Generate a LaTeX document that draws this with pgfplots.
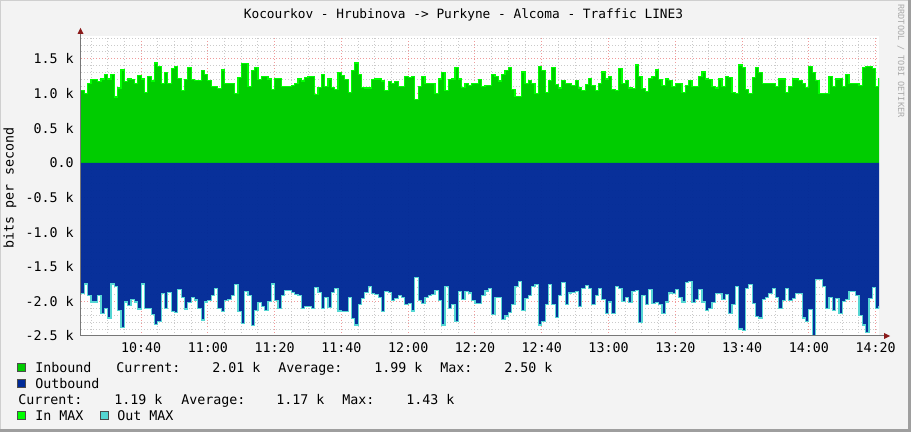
\documentclass[border=0pt]{standalone}
\usepackage{pgfplots}
\pgfplotsset{compat=1.18}
\usepackage{pgfplotstable}
\usepackage{fontspec}
\setmainfont{DejaVu Sans Mono}

\definecolor{bgcol}{HTML}{F3F3F3}
\definecolor{edgedark}{HTML}{9E9E9E}
\definecolor{edgelight}{HTML}{CFCFCF}
\definecolor{inarea}{HTML}{00CC00}
\definecolor{inmax}{HTML}{00FF00}
\definecolor{outarea}{HTML}{002A97}
\definecolor{outmax}{HTML}{55D6D3}
\definecolor{majgrid}{HTML}{F09A9A}
\definecolor{mingrid}{HTML}{CACACA}
\definecolor{axiscol}{HTML}{777777}
\definecolor{arrowcol}{HTML}{8B1A1A}
\definecolor{wmark}{HTML}{AAAAAA}

% minutes after 10:00, inbound, outbound (k bits/s)
\pgfplotstableread[row sep=\\]{
t in out\\
22 1.04 -1.89\\ 23 1.00 -1.75\\ 24 1.15 -1.91\\ 25 1.20 -2.01\\ 26 1.20 -2.01\\
27 1.17 -1.91\\ 28 1.21 -2.18\\ 29 1.27 -2.10\\ 30 1.21 -2.24\\ 31 1.28 -1.75\\
32 0.95 -1.78\\ 33 1.08 -2.13\\ 34 1.34 -2.38\\ 35 1.17 -2.01\\ 36 1.21 -2.06\\
37 1.20 -1.97\\ 38 1.15 -2.01\\ 39 1.26 -2.11\\ 40 1.21 -1.75\\ 41 1.01 -2.10\\
42 1.25 -2.10\\ 43 1.18 -2.19\\ 44 1.44 -2.33\\ 45 1.39 -2.29\\ 46 1.14 -1.89\\
47 1.30 -2.10\\ 48 1.14 -1.87\\ 49 1.36 -2.15\\ 50 1.39 -2.16\\ 51 1.22 -1.83\\
52 1.04 -1.95\\ 53 1.20 -2.11\\ 54 1.38 -2.02\\ 55 1.20 -1.95\\ 56 1.19 -1.98\\
57 1.19 -2.10\\ 58 1.33 -2.27\\ 59 1.28 -2.01\\ 60 1.19 -1.99\\ 61 1.10 -1.92\\
62 1.10 -1.82\\ 63 1.07 -2.10\\ 64 1.34 -2.15\\ 65 1.14 -1.99\\ 66 1.15 -1.97\\
67 1.15 -1.91\\ 68 1.00 -1.76\\ 69 1.23 -2.15\\ 70 1.43 -2.32\\ 71 1.43 -1.86\\
72 1.10 -1.91\\ 73 1.33 -2.35\\ 74 1.37 -2.13\\ 75 1.20 -2.02\\ 76 1.25 -2.08\\
77 1.25 -2.13\\ 78 1.21 -2.00\\ 79 1.06 -1.75\\ 80 1.22 -1.99\\ 81 1.22 -2.10\\
82 1.10 -1.91\\ 83 1.10 -1.84\\ 84 1.10 -1.84\\ 85 1.11 -1.87\\ 86 1.15 -1.90\\
87 1.21 -1.91\\ 88 1.18 -2.10\\ 89 1.23 -2.07\\ 90 1.25 -2.07\\ 91 1.25 -2.10\\
92 0.99 -1.80\\ 93 1.09 -1.87\\ 94 1.28 -2.10\\ 95 1.10 -1.94\\ 96 1.21 -2.09\\
97 1.09 -1.87\\ 98 1.06 -1.82\\ 99 1.30 -2.14\\ 100 1.26 -2.15\\ 101 1.20 -2.15\\
102 1.01 -1.94\\ 103 1.33 -2.25\\ 104 1.44 -2.34\\ 105 1.27 -2.05\\ 106 1.09 -1.96\\
107 1.08 -1.87\\ 108 1.08 -1.78\\ 109 1.20 -1.89\\ 110 1.21 -1.90\\ 111 1.21 -1.94\\
112 1.18 -2.15\\ 113 1.04 -1.86\\ 114 1.17 -1.87\\ 115 1.15 -1.99\\ 116 1.17 -1.96\\
117 1.10 -1.92\\ 118 1.10 -1.94\\ 119 1.25 -2.05\\ 120 1.23 -2.03\\ 121 1.25 -2.14\\
122 0.91 -1.65\\ 123 1.10 -1.99\\ 124 1.24 -2.03\\ 125 1.14 -1.95\\ 126 1.14 -1.92\\
127 1.14 -1.90\\ 128 1.00 -1.84\\ 129 1.21 -1.99\\ 130 1.30 -2.34\\ 131 1.04 -1.79\\
132 1.20 -2.10\\ 133 1.21 -2.05\\ 134 1.38 -2.29\\ 135 1.21 -1.86\\ 136 1.09 -1.97\\
137 1.14 -1.86\\ 138 1.12 -1.88\\ 139 1.15 -1.99\\ 140 1.14 -2.03\\ 141 1.20 -2.03\\
142 1.10 -1.92\\ 143 1.11 -1.85\\ 144 1.11 -1.82\\ 145 1.27 -2.19\\ 146 1.25 -1.95\\
147 1.18 -1.95\\ 148 1.28 -2.26\\ 149 1.33 -2.21\\ 150 1.38 -2.16\\ 151 1.06 -2.05\\
152 0.96 -1.78\\ 153 0.96 -1.71\\ 154 1.31 -2.13\\ 155 1.15 -1.96\\ 156 1.19 -1.91\\
157 1.15 -1.78\\ 158 1.00 -1.76\\ 159 1.39 -2.34\\ 160 1.33 -2.29\\ 161 1.01 -2.05\\
162 1.19 -1.76\\ 163 1.38 -2.05\\ 164 1.13 -2.23\\ 165 1.08 -1.92\\ 166 1.19 -1.73\\
167 1.15 -2.05\\ 168 1.15 -1.88\\ 169 1.12 -1.87\\ 170 1.19 -1.86\\ 171 1.08 -2.07\\
172 1.04 -1.81\\ 173 1.13 -1.77\\ 174 1.22 -1.81\\ 175 1.12 -2.05\\ 176 1.04 -1.91\\
177 1.15 -1.82\\ 178 1.31 -1.97\\ 179 1.21 -2.18\\ 180 1.25 -2.01\\ 181 1.06 -2.18\\
182 1.04 -1.78\\ 183 1.36 -1.81\\ 184 1.14 -2.00\\ 185 1.19 -1.95\\ 186 1.08 -2.02\\
187 1.07 -1.86\\ 188 1.41 -1.84\\ 189 1.25 -2.30\\ 190 1.07 -1.92\\ 191 1.03 -2.05\\
192 1.22 -1.83\\ 193 1.25 -2.03\\ 194 1.34 -2.02\\ 195 1.20 -2.05\\ 196 1.12 -2.18\\
197 1.21 -2.01\\ 198 1.19 -1.88\\ 199 1.10 -1.89\\ 200 1.15 -1.83\\ 201 1.15 -1.95\\
202 1.02 -2.01\\ 203 1.12 -1.73\\ 204 1.19 -1.71\\ 205 1.10 -2.02\\ 206 1.10 -1.97\\
207 1.25 -1.83\\ 208 1.31 -2.01\\ 209 1.21 -2.13\\ 210 1.20 -2.10\\ 211 1.10 -2.02\\
212 1.08 -1.89\\ 213 1.21 -1.89\\ 214 1.10 -1.97\\ 215 1.25 -1.90\\ 216 1.23 -2.18\\
217 1.01 -2.05\\ 218 1.00 -1.78\\ 219 1.41 -2.40\\ 220 1.38 -2.42\\ 221 1.06 -1.81\\
222 1.00 -1.76\\ 223 1.23 -2.03\\ 224 1.38 -2.22\\ 225 1.30 -2.24\\ 226 1.15 -1.97\\
227 1.14 -1.95\\ 228 1.14 -1.89\\ 229 1.14 -1.82\\ 230 1.10 -1.94\\ 231 1.21 -2.10\\
232 1.21 -1.99\\ 233 1.02 -1.81\\ 234 1.10 -1.99\\ 235 1.21 -1.96\\ 236 1.21 -1.89\\
237 1.19 -1.89\\ 238 1.15 -2.24\\ 239 1.09 -2.29\\ 240 1.39 -2.12\\ 241 1.30 -2.50\\
242 1.19 -1.69\\ 243 1.00 -1.69\\ 244 1.00 -1.78\\ 245 1.00 -2.10\\ 246 1.25 -1.94\\
247 1.10 -2.13\\ 248 1.21 -1.96\\ 249 1.22 -2.18\\ 250 1.10 -2.00\\ 251 1.28 -1.97\\
252 1.14 -1.86\\ 253 1.14 -1.86\\ 254 1.14 -1.92\\ 255 1.12 -2.20\\ 256 1.37 -2.34\\
257 1.39 -2.45\\ 258 1.39 -1.96\\ 259 1.36 -1.80\\ 260 1.10 -2.10\\ 261 1.22 -2.07\\
}\traffic

\newcommand{\lgfont}{\fontsize{10}{12}\selectfont}

\begin{document}
\begin{tikzpicture}[x=0.75pt,y=0.75pt]
\path[use as bounding box] (0,0) rectangle (911,432);
\fill[bgcol] (0,0) rectangle (911,432);
\fill[edgelight] (0,431) rectangle (911,432);
\fill[edgelight] (0,0) rectangle (1,432);
\fill[edgedark] (908,0) rectangle (911,432);
\fill[edgedark] (0,0) rectangle (911,3);

\begin{axis}[
  at={(60.75pt,72pt)}, anchor=south west, scale only axis,
  width=598.5pt, height=225pt,
  xmin=22, xmax=261, ymin=-2.5, ymax=1.83,
  axis background/.style={fill=white},
  axis line style={draw=none},
  xtick={40,60,...,260},
  xticklabels={10:40,11:00,11:20,11:40,12:00,12:20,12:40,13:00,13:20,13:40,14:00,14:20},
  ytick={-2.5,-2,...,1.5},
  yticklabels={-2.5 k,-2.0 k,-1.5 k,-1.0 k,-0.5 k,0.0,0.5 k,1.0 k,1.5 k},
  minor xtick={25,30,...,260},
  minor ytick={-2.4,-2.3,...,1.8},
  grid=both,
  major grid style={draw=majgrid, line width=0.75pt, dash pattern=on 0.75pt off 1.5pt},
  minor grid style={draw=mingrid, line width=0.75pt, dash pattern=on 0.75pt off 1.5pt},
  major tick length=0pt, minor tick length=0pt,
  tick label style={font=\lgfont, inner sep=0pt},
  xticklabel style={anchor=north, yshift=-4.5pt},
  yticklabel style={anchor=east, xshift=-5.25pt},
]
\addplot[const plot, fill=inarea, draw=none] table[x=t, y=in] {\traffic} \closedcycle;
\addplot[const plot, fill=outarea, draw=none, fill opacity=0.97] table[x=t, y=out] {\traffic} \closedcycle;
\addplot[const plot, draw=inmax, line width=0.9pt] table[x=t, y=in] {\traffic};
\addplot[const plot, draw=outmax, line width=0.9pt] table[x=t, y=out] {\traffic};
\end{axis}

% axis lines with arrows
\draw[axiscol, line width=0.75pt] (80.5,96) -- (884,96);
\draw[axiscol, line width=0.75pt] (80.5,96) -- (80.5,399);
\fill[arrowcol] (884,93) -- (890,96) -- (884,99) -- cycle;
\fill[arrowcol] (77.5,398) -- (80.5,404) -- (83.5,398) -- cycle;

% title, axis label, watermark
\node[font=\fontsize{9.6}{11}\selectfont, anchor=base] at (463.5,413)
  {Kocourkov - Hrubinova -> Purkyne - Alcoma - Traffic LINE3};
\node[font=\lgfont, rotate=90] at (10,244) {bits per second};
\node[font=\fontsize{6.4}{7}\selectfont, text=wmark, rotate=-90] at (901,371)
  {RRDTOOL / TOBI OETIKER};

% legend
\tikzset{lg/.style={font=\lgfont, anchor=base west, inner sep=0pt}}
\filldraw[fill=inarea, draw=black!70, line width=0.75pt] (17.5,60.5) rectangle (25.5,68.5);
\node[lg] at (35,59) {Inbound};
\node[lg] at (116,59) {Current:};
\node[lg] at (212,59) {2.01 k};
\node[lg] at (278,59) {Average:};
\node[lg] at (374,59) {1.99 k};
\node[lg] at (440,59) {Max:};
\node[lg] at (504,59) {2.50 k};

\filldraw[fill=outarea, draw=black!70, line width=0.75pt] (17.5,44.5) rectangle (25.5,52.5);
\node[lg] at (35,43) {Outbound};

\node[lg] at (18,27) {Current:};
\node[lg] at (114,27) {1.19 k};
\node[lg] at (181,27) {Average:};
\node[lg] at (276,27) {1.17 k};
\node[lg] at (342,27) {Max:};
\node[lg] at (406,27) {1.43 k};

\filldraw[fill=inmax, draw=black!70, line width=0.75pt] (17.5,12.5) rectangle (25.5,20.5);
\node[lg] at (35,11) {In MAX};
\filldraw[fill=outmax, draw=black!70, line width=0.75pt] (100.5,12.5) rectangle (108.5,20.5);
\node[lg] at (117,11) {Out MAX};
\end{tikzpicture}
\end{document}
